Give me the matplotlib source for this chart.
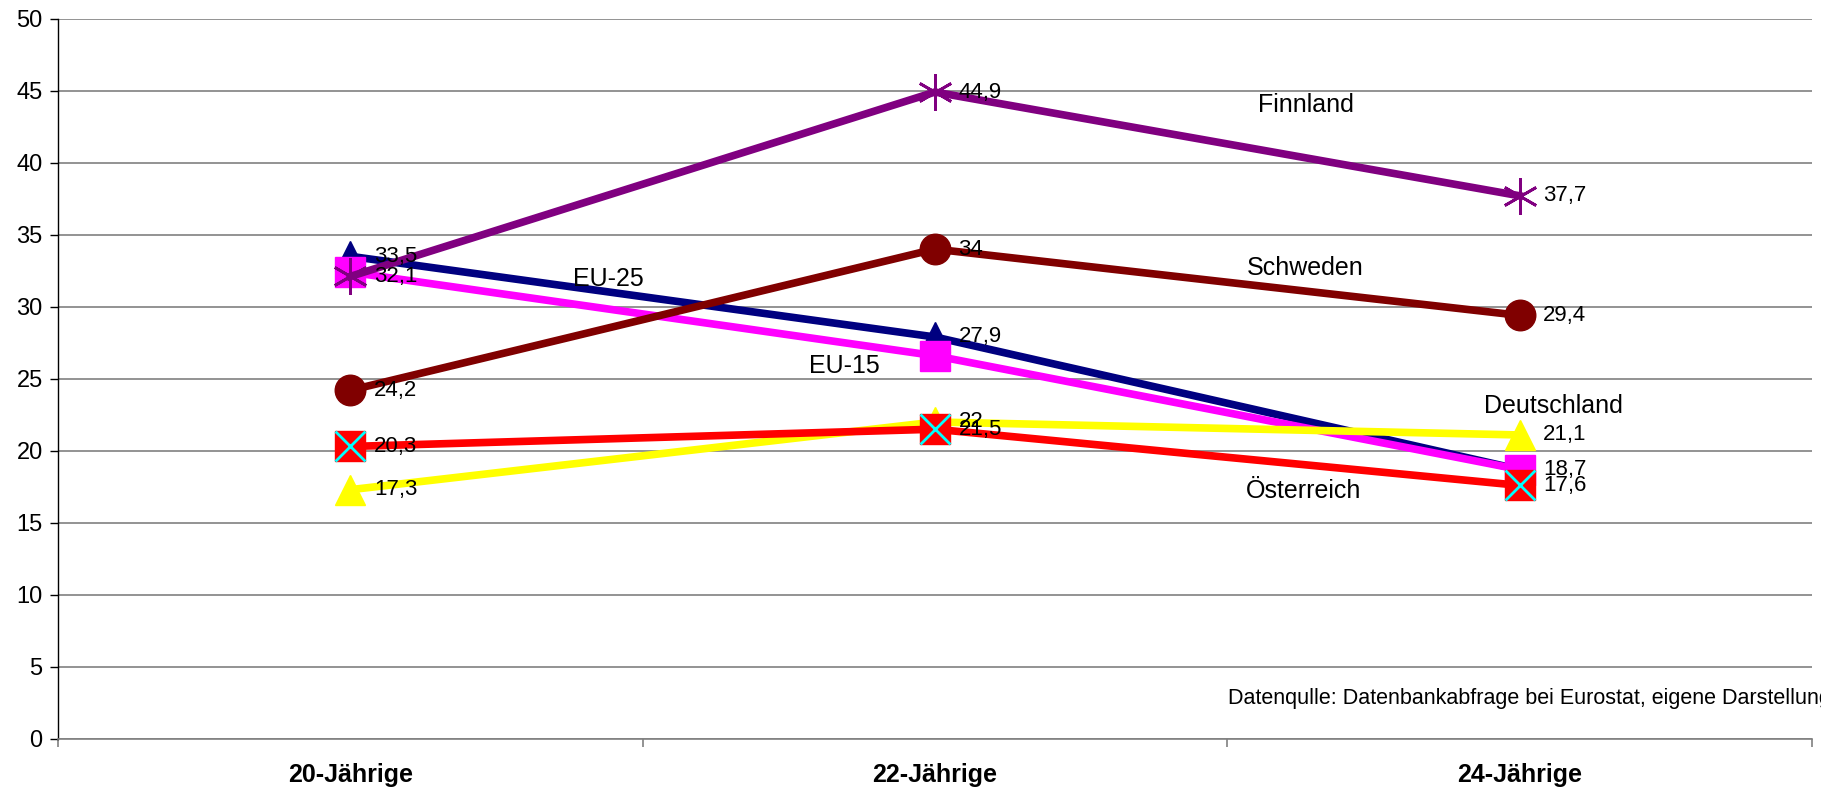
import numpy as np
import matplotlib.pyplot as plt

plt.rcParams['font.family'] = ['Liberation Sans', 'DejaVu Sans']

categories = ['20-Jährige', '22-Jährige', '24-Jährige']

eu25 = [33.5, 27.9, 18.7]
eu15 = [32.4, 26.6, 18.7]
deutschland = [17.3, 22.0, 21.1]
oesterreich = [20.3, 21.5, 17.6]
schweden = [24.2, 34.0, 29.4]
finnland = [32.1, 44.9, 37.7]

# which point labels are visible in the original
lab_eu25 = ['33,5', '27,9', None]
lab_eu15 = [None, None, '18,7']
lab_de = ['17,3', '22', '21,1']
lab_at = ['20,3', '21,5', '17,6']
lab_se = ['24,2', '34', '29,4']
lab_fi = ['32,1', '44,9', '37,7']

x = np.arange(len(categories))

fig = plt.figure(figsize=(18.21, 7.9), dpi=100)
ax = fig.add_axes([0.0318, 0.0646, 0.9632, 0.9119])

lw = 5.5
ms = 21
ax.plot(x, eu25, color='#000080', lw=lw, marker='^', ms=ms, zorder=3)
ax.plot(x, eu15, color='#FF00FF', lw=lw, marker='s', ms=ms, zorder=4)
ax.plot(x, deutschland, color='#FFFF00', lw=lw, marker='^', ms=ms, zorder=5)
ax.plot(x, oesterreich, color='#FF0000', lw=lw, marker='s', ms=ms, zorder=6)
ax.plot(x, oesterreich, ls='none', marker='x', ms=ms, mew=2, color='#00FFFF', zorder=6.5)
ax.plot(x, schweden, color='#800000', lw=lw, marker='o', ms=ms + 1, zorder=7)
ax.plot(x, finnland, color='#800080', lw=lw, marker=(6, 2, 0), ms=ms + 5, mew=2, zorder=8)

for vals, labs in [(eu25, lab_eu25), (eu15, lab_eu15), (deutschland, lab_de),
                   (oesterreich, lab_at), (schweden, lab_se), (finnland, lab_fi)]:
    for xi, v, t in zip(x, vals, labs):
        if t:
            ax.annotate(t, (xi, v), xytext=(17, 0), textcoords='offset points',
                        va='center', ha='left', fontsize=16, zorder=10)

ax.text(1.634, 44.0, 'Finnland', fontsize=18, ha='center', va='center')
ax.text(1.634, 32.7, 'Schweden', fontsize=18, ha='center', va='center')
ax.text(0.441, 31.9, 'EU-25', fontsize=18, ha='center', va='center')
ax.text(0.845, 25.9, 'EU-15', fontsize=18, ha='center', va='center')
ax.text(2.058, 23.1, 'Deutschland', fontsize=18, ha='center', va='center')
ax.text(1.630, 17.2, 'Österreich', fontsize=18, ha='center', va='center')
ax.text(1.501, 2.8, 'Datenqulle: Datenbankabfrage bei Eurostat, eigene Darstellung',
        fontsize=15.5, ha='left', va='center', clip_on=False)

ax.set_xlim(-0.5, 2.5)
ax.set_ylim(0, 50)
ax.set_yticks(np.arange(0, 51, 5))
ax.set_xticks(x)
ax.set_xticklabels(categories, fontsize=18, fontweight='bold')
ax.set_xticks([-0.5, 0.5, 1.5, 2.5], minor=True)
ax.tick_params(axis='x', which='major', length=0, pad=17)
ax.tick_params(axis='x', which='minor', length=6, color='#808080', width=1.2, direction='out')
ax.tick_params(axis='y', labelsize=17, length=6, pad=5, width=1)

ax.grid(axis='y', color='#808080', lw=1.2, zorder=0)
ax.set_axisbelow(True)
for s in ['top', 'right']:
    ax.spines[s].set_visible(False)
ax.spines['bottom'].set_color('#808080')
ax.spines['bottom'].set_linewidth(1.2)
ax.spines['left'].set_color('black')
ax.spines['left'].set_linewidth(1)

fig.savefig('out.png', dpi=100)
